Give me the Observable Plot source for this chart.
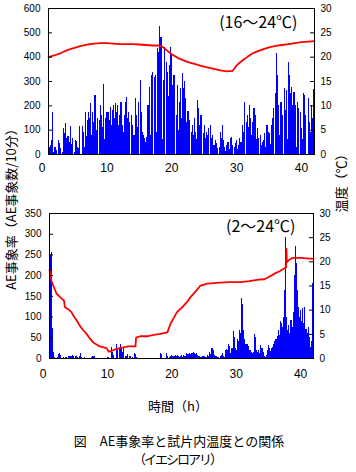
<!DOCTYPE html>
<html><head><meta charset="utf-8">
<script src="https://cdn.jsdelivr.net/npm/d3@7"></script>
<script src="https://cdn.jsdelivr.net/npm/@observablehq/plot@0.6"></script>
<style>
body{margin:0;background:#fff;}
#wrap{position:relative;width:356px;height:472px;overflow:hidden;font-family:"Noto Sans CJK JP",sans-serif;color:#000;}
#top{position:absolute;left:0;top:0;}
#bot{position:absolute;left:0;top:176px;}
.lbl{position:absolute;white-space:nowrap;line-height:1;}
.rot{transform:translate(-50%,-50%) rotate(-90deg);}
.ctr{transform:translate(-50%,-50%);}
</style></head>
<body><div id="wrap">
<div id="top"></div><div id="bot"></div>
<div class="lbl rot" style="left:10px;top:206px;font-size:13px;">AE事象率（AE事象数/10分）</div>
<div class="lbl rot" style="left:340px;top:180px;font-size:13px;">温度（℃）</div>
<div class="lbl ctr" style="left:178px;top:405px;font-size:13px;">時間（h）</div>
<div class="lbl ctr" style="left:179px;top:440px;font-size:13px;">図　AE事象率と試片内温度との関係</div>
<div class="lbl ctr" style="left:177px;top:458px;font-size:13px;letter-spacing:-2px;">（イエシロアリ）</div>
</div>
<script>
// time axis (hours); bars are 10-minute bins starting at 1 h
const binStart = 1;
const binHours = 1 / 6;
const xTicks = [0, 10, 20, 30, 40];
const topLeftTicks = [0, 100, 200, 300, 400, 500, 600];
const botLeftTicks = [0, 50, 100, 150, 200, 250, 300, 350];
const rightTicks = [0, 5, 10, 15, 20, 25, 30];
const topNote = "(16～24℃)";
const botNote = "(2～24℃)";

// AE event counts per 10 min, test 1 (16–24 °C)
const topBars = [
  23,30,37,58,174,10,30,16,0,58, 45,23,0,10,105,85,126,64,75,50,
  115,40,64,0,10,58,55,30,23,116, 0,116,92,30,174,74,140,171,147,211,
  80,174,133,242,100,147,0,140,201,160, 112,288,60,147,174,171,140,195,120,181,
  201,150,208,
  174,201,120,160,215,119,90,160,215,235,
  147,174,133,0,160,119,80,229,160,110,
  215,0,304,174,92,78,64,50,71,201,
  277,80,325,338,0,318,325,90,434,420,
  527,482,60,304,441,0,380,338,240,366,
  441,410,284,325,0,160,284,100,215,270,150,
  331,270,300,229,133,175,140,0,92,119,
  80,147,92,60,222,188,120,160,0,85,
  119,64,92,78,105,0,119,64,80,37,
  58,45,23,0,30,92,64,119,58,30,
  12,37,51,20,64,70,37,0,30,44,
  58,20,37,64,50,119,90,215,0,133,
  160,110,201,147,
  78,130,188,160,60,105,64,0,78,37,
  50,58,85,30,119,92,85,40,119,147,
  188,0,250,414,325,201,80,215,160,0,
  270,180,263,60,380,325,250,277,200,256,
  201,30,215,188,0,174,105,60,250,242,
  160,0,229,133,90,201,150,266
];
// AE event counts per 10 min, test 2 (2–24 °C)
const botBars = [
  105,249,257,73,15,2,0,3,9,11,8,0,
  0,2,0,3,3,0,5,6,4,7,6,0,
  4,5,3,0,6,11,2,0,0,3,0,0,
  0,0,0,2,5,4,5,0,0,0,0,0,
  0,0,0,0,0,0,3,2,0,0,27,15,
  8,0,34,21,0,23,33,27,15,27,0,4,
  6,10,0,5,0,2,0,11,9,2,0,0,
  0,0,0,0,0,0,0,0,0,0,
  0,0,0,0,0,0,0,0,0,11,9,0,
  0,0,0,11,5,0,2,4,7,5,6,7,
  5,7,6,3,5,7,3,7,5,4,13,9,
  12,10,13,11,15,13,10,12,8,4,5,3,
  3,5,4,2,3,7,4,15,9,25,25,19,
  7,6,5,3,0,5,7,11,6,3,19,21,
  19,35,29,12,23,64,50,23,19,47,40,68,
  60,144,130,68,45,35,35,30,19,19,15,12,
  15,58,50,19,15,19,12,31,25,15,5,3,
  8,20,31,23,18,25,27,35,40,45,52,68,
  55,90,84,75,100,164,293,100,68,80,60,92,
  75,110,200,271,230,164,124,100,115,90,120,85,
  124,70,60,76,50,27,40,180
];
// specimen temperature (°C), test 1
const topTempHours = [1,2,3,4,5,6,7,8,9,10,11,12,14,15,16,17,18,18.5,19,19.5,20,20.5,21,21.7,22.5,23.5,24.5,25.5,26.5,27.5,28.5,29.4,30,30.5,31,31.5,32,32.5,33,34,35,36,37,38,39,40,41,42];
const topTempC =     [20.0,20.4,20.9,21.5,21.9,22.3,22.6,22.8,22.9,22.9,22.8,22.7,22.7,22.6,22.5,22.4,22.4,22.2,21.7,21.1,20.6,20.2,19.8,19.4,19.0,18.6,18.2,17.9,17.6,17.3,17.1,17.2,18.3,18.9,19.4,19.9,20.4,20.8,21.1,21.6,22.0,22.3,22.5,22.7,22.9,23.1,23.2,23.3];
// specimen temperature (°C), test 2
const botTempHours = [1.0,1.15,1.3,1.6,2.1,2.5,2.9,3.25,3.4,4.0,4.4,4.7,5.2,5.7,6.2,6.75,7.3,7.8,8.3,8.8,9.4,9.9,10.2,10.6,11.0,11.4,12.0,12.5,13.2,14.35,14.45,15.1,16.1,17.2,18.2,19.3,19.8,20.3,20.8,21.6,22.3,22.9,23.7,24.45,25.5,26.5,27.5,29.0,30.6,32.0,33.5,34.4,35.0,35.5,36.0,36.8,37.3,37.75,37.8,37.85,38.2,38.7,40.0,41.0,42.0];
const botTempC =     [18.3,17.6,16.1,15.0,13.4,12.9,12.4,12.0,10.6,10.1,9.6,8.9,7.9,6.8,5.9,5.1,4.1,3.3,2.9,2.5,2.3,2.1,1.4,1.5,1.8,2.0,2.2,2.3,2.5,2.5,4.3,4.6,4.6,4.9,5.1,5.4,7.2,8.4,9.6,10.6,11.6,12.7,13.9,15.1,15.5,15.6,15.7,15.8,15.8,16.0,16.3,16.4,16.8,17.2,17.6,18.1,18.5,18.9,22.7,19.9,20.4,20.8,20.8,20.7,20.6];

function chart({bars, tHours, tC, yMax, leftTicks, note, ml, mr, mt, ph, mb, tickPad, noteDx, noteDy}) {
  const k = yMax / 30;
  const plotW = 356 - ml - mr;
  const barData = bars.map((v, i) => ({t0: binStart + i * binHours, t1: binStart + (i + 1) * binHours, v}));
  const tempData = tHours.map((t, i) => ({t, c: tC[i]}));
  const rightScaled = rightTicks.map(v => v * k);
  return Plot.plot({
    width: 356, height: mt + ph + mb,
    marginLeft: ml, marginRight: mr, marginTop: mt, marginBottom: mb,
    x: {domain: [1, 42]},
    y: {domain: [0, yMax]},
    style: {fontFamily: "'Liberation Sans', Arial, sans-serif", fontSize: "10px", color: "#000", background: "transparent", overflow: "visible"},
    marks: [
      Plot.rectY(barData, {x1: "t0", x2: "t1", y: "v", fill: "#0000ff", shapeRendering: "crispEdges"}),
      Plot.line(tempData, {x: "t", y: d => d.c * k, stroke: "#ff0000", strokeWidth: 1.8}),
      Plot.frame({stroke: "#000"}),
      Plot.tickY(leftTicks, {y: d => d, insetRight: plotW - 4, stroke: "#000"}),
      Plot.tickY(rightScaled, {y: d => d, insetLeft: plotW - 4, stroke: "#000"}),
      Plot.axisY({anchor: "left", ticks: leftTicks, tickSize: 0, tickPadding: 8, label: null, fontSize: 10}),
      Plot.axisY({anchor: "right", ticks: rightScaled, tickFormat: d => Math.round(d / k), tickSize: 0, tickPadding: 6, label: null, fontSize: 10}),
      Plot.axisX({ticks: xTicks, tickSize: 0, tickPadding: tickPad, label: null, fontSize: 12}),
      Plot.text([note], {text: d => d, frameAnchor: "top-right", textAnchor: "end", lineAnchor: "middle", dx: noteDx, dy: noteDy, fontSize: 16, fontFamily: "'Noto Sans CJK JP', sans-serif"})
    ]
  });
}

document.getElementById("top").append(chart({
  bars: topBars, tHours: topTempHours, tC: topTempC, yMax: 600, leftTicks: topLeftTicks, note: topNote,
  ml: 48, mr: 42, mt: 8, ph: 146, mb: 22, tickPad: 9, noteDx: -17, noteDy: 14.5
}));
document.getElementById("bot").append(chart({
  bars: botBars, tHours: botTempHours, tC: botTempC, yMax: 350, leftTicks: botLeftTicks, note: botNote,
  ml: 49, mr: 43, mt: 37, ph: 145, mb: 25, tickPad: 11, noteDx: -18, noteDy: 13.5
}));
</script>
</body></html>
